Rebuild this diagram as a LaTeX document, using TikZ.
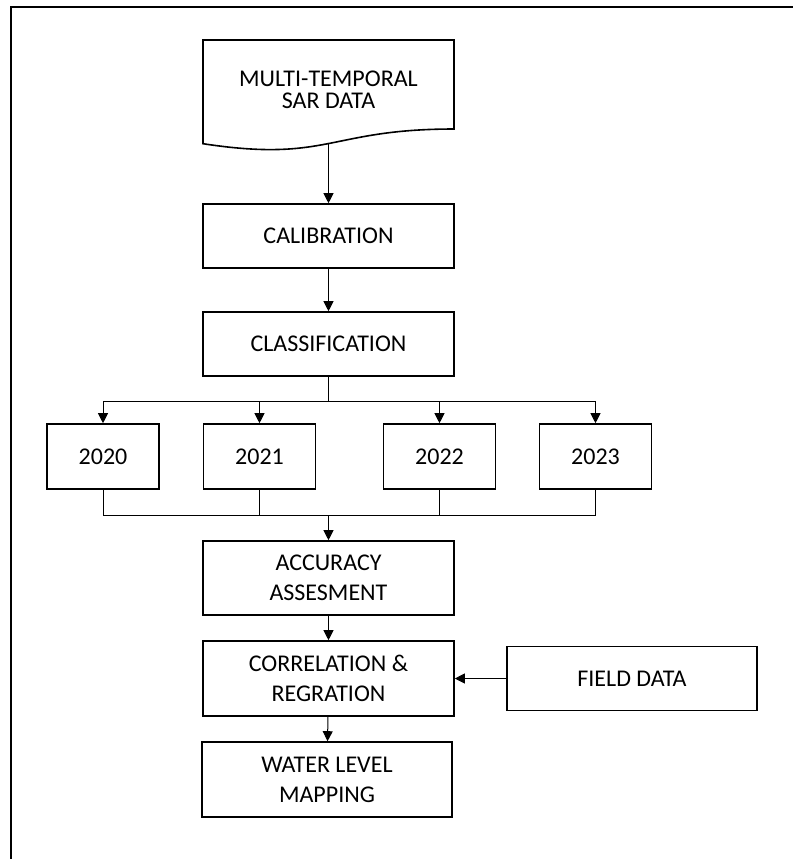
\documentclass[tikz,border=0pt]{standalone}
\usepackage{fontspec}
\setmainfont{Carlito}
\usetikzlibrary{arrows.meta}

\begin{document}
\begin{tikzpicture}[x=0.5pt,y=-0.5pt,
    box/.style={draw,line width=0.8pt,minimum width=125.5pt,minimum height=32pt,inner sep=0pt,align=center,font=\fontsize{12}{15}\selectfont},
    yearbox/.style={box,minimum width=56pt,minimum height=32.5pt},
    tallbox/.style={box,minimum height=37.5pt},
    link/.style={line width=0.5pt},
    arrow/.style={link,-{Triangle[width=5pt,length=5pt]}}]
  \useasboundingbox (0,0) rectangle (793,859);
  \draw[line width=1pt] (11,859) -- (11,7) -- (793,7);
  \draw[line width=0.8pt] (203,40) -- (454,40) -- (454,129) .. controls (328.5,129) and (328.5,162.9) .. (203,143.7) -- cycle;
  \node[align=center,inner sep=0pt,font=\fontsize{12}{11}\selectfont] (sar) at (328.5,89.5) {MULTI-TEMPORAL\\SAR DATA};
  \coordinate (sarbase) at (328.5,143.6);
  \node[box] (calib) at (328.5,236) {CALIBRATION};
  \node[box] (classif) at (328.5,344) {CLASSIFICATION};
  \node[yearbox] (y2020) at (103,456.5) {2020};
  \node[yearbox] (y2021) at (259.5,456.5) {2021};
  \node[yearbox] (y2022) at (439.5,456.5) {2022};
  \node[yearbox] (y2023) at (595.5,456.5) {2023};
  \node[box,minimum height=37pt] (accur) at (328.5,578) {ACCURACY\\ASSESMENT};
  \node[tallbox] (correl) at (328.5,678.5) {CORRELATION \&\\REGRATION};
  \node[tallbox,minimum width=125pt] (water) at (327,779.5) {WATER LEVEL\\MAPPING};
  \node[box,minimum width=125pt] (field) at (632,678.5) {FIELD DATA};
  \coordinate (split) at (328.5,401);
  \coordinate (merge) at (328.5,515);
  \draw[arrow] (sarbase) -- (calib);
  \draw[arrow] (calib) -- (classif);
  \draw[link] (classif) -- (split);
  \draw[arrow] (split) -| (y2020);
  \draw[arrow] (split) -| (y2021);
  \draw[arrow] (split) -| (y2022);
  \draw[arrow] (split) -| (y2023);
  \draw[link] (y2020) |- (merge);
  \draw[link] (y2021) |- (merge);
  \draw[link] (y2022) |- (merge);
  \draw[link] (y2023) |- (merge);
  \draw[arrow] (merge) -- (accur);
  \draw[arrow] (accur) -- (correl);
  \draw[arrow] (correl) -- (water);
  \draw[arrow] (field) -- (correl);
\end{tikzpicture}
\end{document}
